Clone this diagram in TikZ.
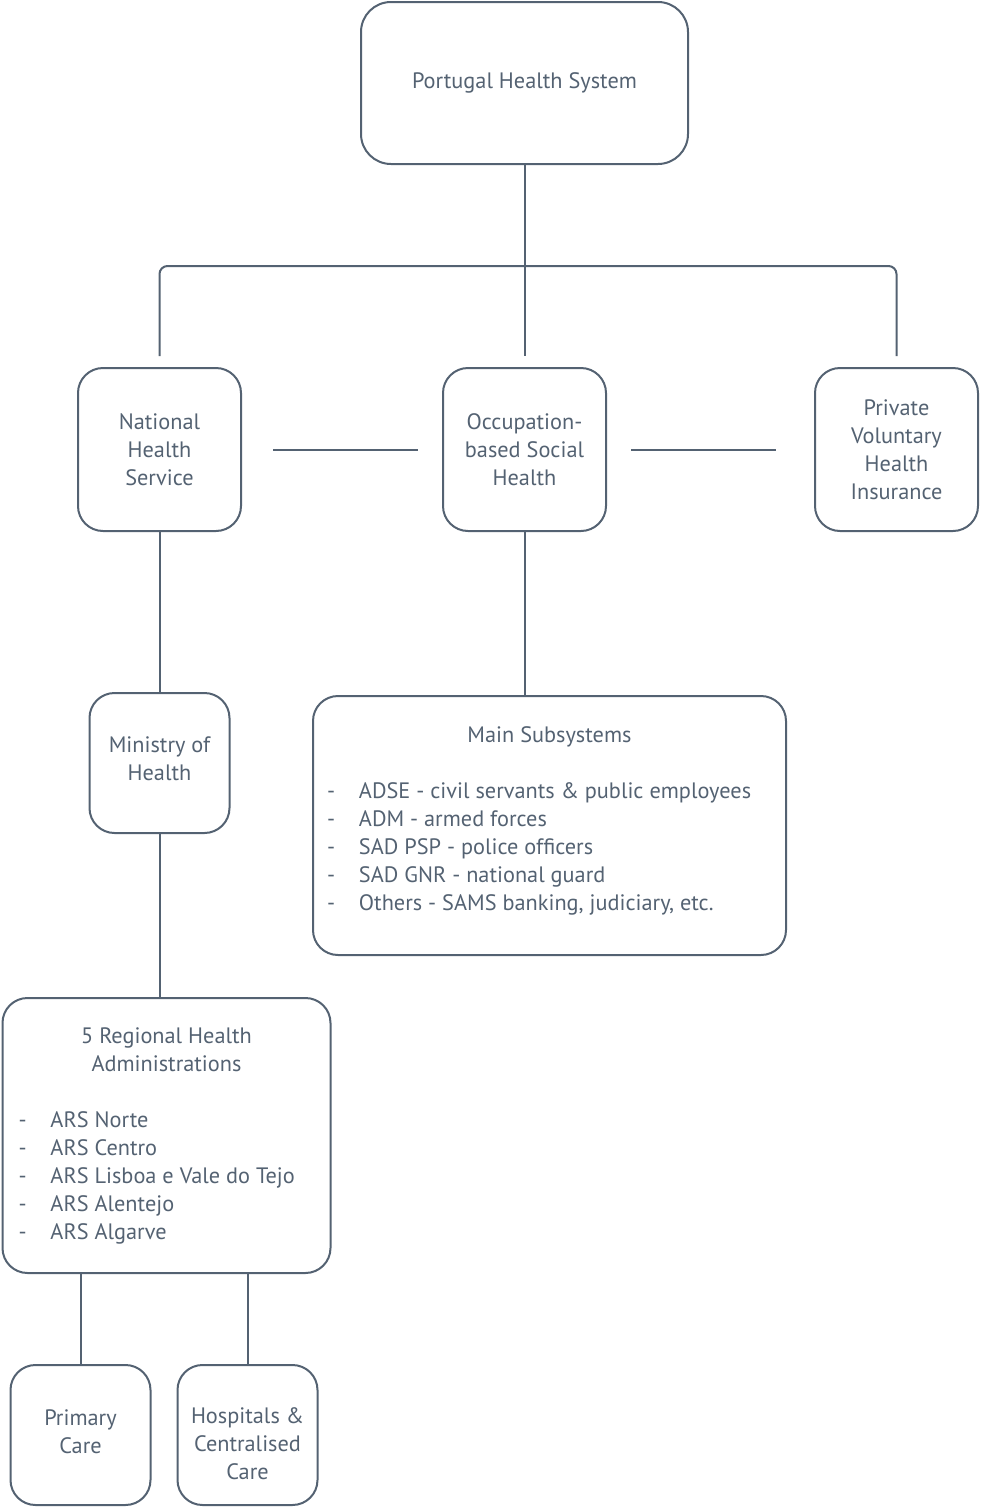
\documentclass[tikz,border=0pt]{standalone}
\usepackage{fontspec}
\setmainfont{PT Sans}
\usetikzlibrary{positioning}
\definecolor{slate}{RGB}{84,98,114}
\tikzset{
  box/.style={draw=slate, line width=2pt, rounded corners=25pt, align=center,
    text=slate, font=\fontsize{22.3}{28}\selectfont, inner sep=0pt},
  link/.style={draw=slate, line width=2pt},
}

\begin{document}
\begin{tikzpicture} [x=1pt, y=-1pt, node distance=1pt, on grid]
    \useasboundingbox (0,0) rectangle (980,1507);
    \node (top) [box, minimum width=327pt, minimum height=162pt, rounded corners=30pt] at (524.5,83) {Portugal Health System};
    \node (osh) [box, minimum size=163pt, below=366.5pt of top] {Occupation-\\based Social\\Health};
    \node (nhs) [box, minimum size=163pt, left=365pt of osh] {National\\Health\\Service};
    \node (pvhi) [box, minimum size=163pt, right=372pt of osh] {Private\\Voluntary\\Health\\Insurance};
    \node (mins) [box, minimum size=140pt, below=313.5pt of nhs] {Ministry of\\Health\rule[-8pt]{0pt}{1pt}};
    \node (subsys) [box, minimum width=473pt, minimum height=259pt, below right=376pt and 25pt of osh] {%
      \begin{tabular}{@{}p{32pt}@{}p{413pt}@{}}
        \multicolumn{2}{@{}c@{}}{Main Subsystems}\\[28pt]
        - & ADSE - civil servants \& public employees\\
        - & ADM - armed forces\\
        - & SAD PSP - police officers\\
        - & SAD GNR - national guard\\
        - & Others - SAMS banking, judiciary, etc.\\[10pt]
      \end{tabular}};
    \node (rha) [box, minimum width=328pt, minimum height=275pt, below right=372.5pt and 7pt of mins] {%
      \begin{tabular}{@{}p{32pt}@{}p{264pt}@{}}
        \multicolumn{2}{@{}c@{}}{5 Regional Health}\\
        \multicolumn{2}{@{}c@{}}{Administrations}\\[28pt]
        - & ARS Norte\\
        - & ARS Centro\\
        - & ARS Lisboa e Vale do Tejo\\
        - & ARS Alentejo\\
        - & ARS Algarve
      \end{tabular}};
    \node (primary) [box, minimum size=140pt, below left=299.5pt and 86pt of rha] {Primary\\Care\rule[-6pt]{0pt}{1pt}};
    \node (hosp) [box, minimum size=140pt, right=167pt of primary] {\rule{0pt}{33pt}Hospitals \&\\Centralised\\Care};

    % top level bus
    \coordinate (bus) at (524.5,266);
    \draw [link] (top.south) -- ([yshift=11pt]osh.north);
    \draw [link, rounded corners=8pt] ([yshift=11pt]nhs.north) |- (bus) -| ([yshift=11pt]pvhi.north);
    \draw [link, shorten <=31pt, shorten >=24pt] (nhs.east) -- (osh.west);
    \draw [link, shorten <=24pt, shorten >=38pt] (osh.east) -- (pvhi.west);

    % branches
    \draw [link] (nhs.south) -- (nhs.south |- mins.north);
    \draw [link] (osh.south) -- (osh.south |- subsys.north);
    \draw [link] (mins.south) -- (mins.south |- rha.north);
    \draw [link] (primary.north |- rha.south) -- (primary.north);
    \draw [link] (hosp.north |- rha.south) -- (hosp.north);
\end{tikzpicture}
\end{document}
